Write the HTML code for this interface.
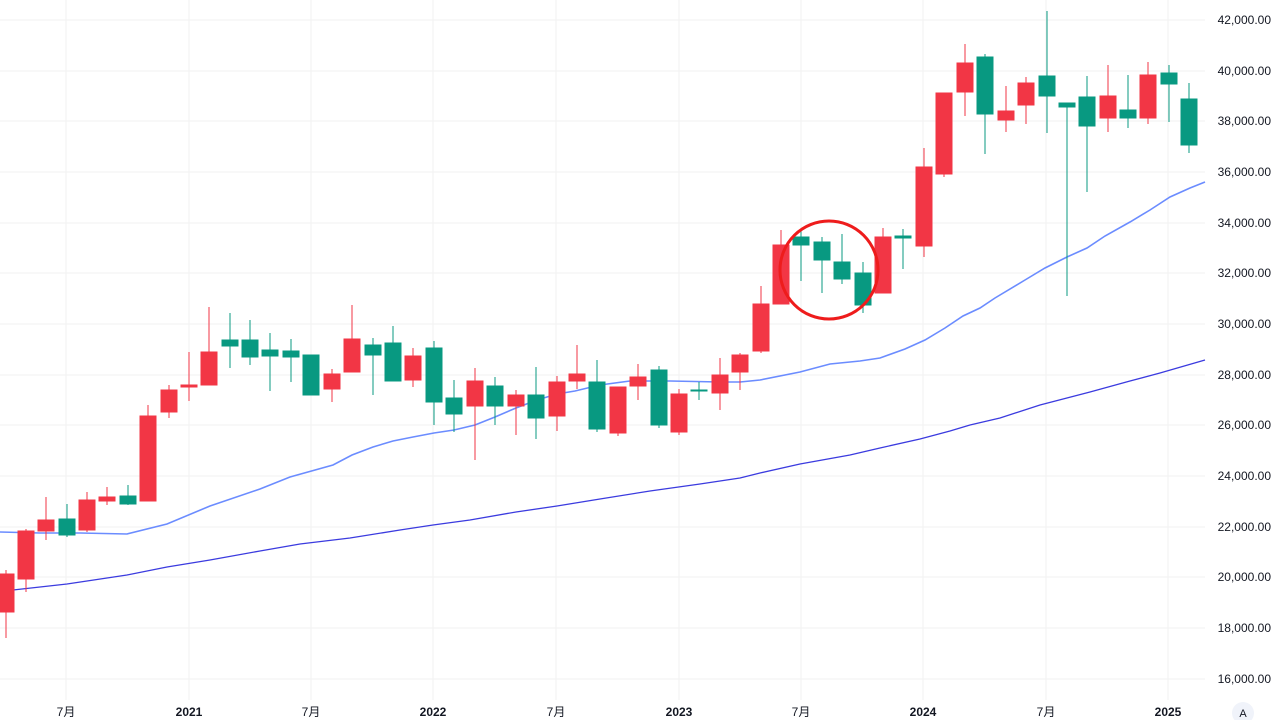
<!DOCTYPE html>
<html><head><meta charset="utf-8"><style>
html,body{margin:0;padding:0;background:#fff;}
svg{display:block;font-family:"Liberation Sans","Noto Sans CJK SC",sans-serif;}
.g line{stroke:#f2f2f2;stroke-width:1}
.r{fill:#f23645;stroke:#f23645}
.gr{fill:#089981;stroke:#089981}
.yl{font-size:12px;fill:#131722;text-anchor:end}
.xl{font-size:12px;fill:#131722;text-anchor:middle}
</style></head><body>
<svg width="1280" height="720" viewBox="0 0 1280 720">
<g class="g">
<line x1="0" y1="20" x2="1205" y2="20"/><line x1="0" y1="71" x2="1205" y2="71"/><line x1="0" y1="121" x2="1205" y2="121"/><line x1="0" y1="172" x2="1205" y2="172"/><line x1="0" y1="223" x2="1205" y2="223"/><line x1="0" y1="273" x2="1205" y2="273"/><line x1="0" y1="324" x2="1205" y2="324"/><line x1="0" y1="375" x2="1205" y2="375"/><line x1="0" y1="425" x2="1205" y2="425"/><line x1="0" y1="476" x2="1205" y2="476"/><line x1="0" y1="527" x2="1205" y2="527"/><line x1="0" y1="577" x2="1205" y2="577"/><line x1="0" y1="628" x2="1205" y2="628"/><line x1="0" y1="679" x2="1205" y2="679"/>
<line x1="66" y1="0" x2="66" y2="700"/><line x1="189" y1="0" x2="189" y2="700"/><line x1="311" y1="0" x2="311" y2="700"/><line x1="433" y1="0" x2="433" y2="700"/><line x1="556" y1="0" x2="556" y2="700"/><line x1="679" y1="0" x2="679" y2="700"/><line x1="801" y1="0" x2="801" y2="700"/><line x1="923" y1="0" x2="923" y2="700"/><line x1="1046" y1="0" x2="1046" y2="700"/><line x1="1168" y1="0" x2="1168" y2="700"/>
</g>
<polyline fill="none" stroke="#6b8cff" stroke-width="1.6" points="0,532 40,533 80,533 127,534 167,524 210,506 260,489 290,477 333,465 352,455 373,447 393,441 413,437 434,433 454,430 475,425 495,417 516,408 537,400 557,394 575,391 600,385 630,381 670,381 720,382 740,382 760,380 800,372 830,364 860,361 880,358 905,349 925,340 945,328 963,316 980,308 995,298 1025,280 1045,268 1067,257 1087,248 1105,236 1130,222 1150,210 1170,197 1190,188 1205,182"/>
<polyline fill="none" stroke="#3b3bdf" stroke-width="1.3" points="0,591 13,590 67,584 127,575 167,567 210,560 260,551 300,544 350,538 400,530 433,525 470,520 516,512 557,506 600,499 650,491 700,484 740,478 760,473 800,464 850,455 880,448 920,439 950,431 970,425 1000,418 1040,405 1090,392 1130,381 1160,373 1205,360"/>
<g stroke-width="1">
<g class="r"><line x1="6" y1="570" x2="6" y2="638"/><rect x="-2" y="574" width="16" height="38"/></g>
<g class="r"><line x1="26" y1="529" x2="26" y2="592"/><rect x="18" y="531" width="16" height="48"/></g>
<g class="r"><line x1="46" y1="497" x2="46" y2="540"/><rect x="38" y="520" width="16" height="11"/></g>
<g class="gr"><line x1="67" y1="504" x2="67" y2="537"/><rect x="59" y="519" width="16" height="16"/></g>
<g class="r"><line x1="87" y1="492" x2="87" y2="532"/><rect x="79" y="500" width="16" height="30"/></g>
<g class="r"><line x1="107" y1="487" x2="107" y2="505"/><rect x="99" y="497" width="16" height="4"/></g>
<g class="gr"><line x1="128" y1="485" x2="128" y2="505"/><rect x="120" y="496" width="16" height="8"/></g>
<g class="r"><line x1="148" y1="405" x2="148" y2="501"/><rect x="140" y="416" width="16" height="85"/></g>
<g class="r"><line x1="169" y1="385" x2="169" y2="418"/><rect x="161" y="390" width="16" height="22"/></g>
<g class="r"><line x1="189" y1="352" x2="189" y2="401"/><rect x="181" y="385" width="16" height="2"/></g>
<g class="r"><line x1="209" y1="307" x2="209" y2="385"/><rect x="201" y="352" width="16" height="33"/></g>
<g class="gr"><line x1="230" y1="313" x2="230" y2="368"/><rect x="222" y="340" width="16" height="6"/></g>
<g class="gr"><line x1="250" y1="320" x2="250" y2="365"/><rect x="242" y="340" width="16" height="17"/></g>
<g class="gr"><line x1="270" y1="333" x2="270" y2="391"/><rect x="262" y="350" width="16" height="6"/></g>
<g class="gr"><line x1="291" y1="339" x2="291" y2="382"/><rect x="283" y="351" width="16" height="6"/></g>
<g class="gr"><line x1="311" y1="355" x2="311" y2="395"/><rect x="303" y="355" width="16" height="40"/></g>
<g class="r"><line x1="332" y1="369" x2="332" y2="402"/><rect x="324" y="374" width="16" height="15"/></g>
<g class="r"><line x1="352" y1="305" x2="352" y2="372"/><rect x="344" y="339" width="16" height="33"/></g>
<g class="gr"><line x1="373" y1="338" x2="373" y2="395"/><rect x="365" y="345" width="16" height="10"/></g>
<g class="gr"><line x1="393" y1="326" x2="393" y2="381"/><rect x="385" y="343" width="16" height="38"/></g>
<g class="r"><line x1="413" y1="348" x2="413" y2="387"/><rect x="405" y="356" width="16" height="24"/></g>
<g class="gr"><line x1="434" y1="341" x2="434" y2="425"/><rect x="426" y="348" width="16" height="54"/></g>
<g class="gr"><line x1="454" y1="380" x2="454" y2="432"/><rect x="446" y="398" width="16" height="16"/></g>
<g class="r"><line x1="475" y1="368" x2="475" y2="460"/><rect x="467" y="381" width="16" height="25"/></g>
<g class="gr"><line x1="495" y1="377" x2="495" y2="425"/><rect x="487" y="386" width="16" height="20"/></g>
<g class="r"><line x1="516" y1="390" x2="516" y2="435"/><rect x="508" y="395" width="16" height="11"/></g>
<g class="gr"><line x1="536" y1="367" x2="536" y2="439"/><rect x="528" y="395" width="16" height="23"/></g>
<g class="r"><line x1="557" y1="376" x2="557" y2="431"/><rect x="549" y="382" width="16" height="34"/></g>
<g class="r"><line x1="577" y1="345" x2="577" y2="389"/><rect x="569" y="374" width="16" height="7"/></g>
<g class="gr"><line x1="597" y1="360" x2="597" y2="432"/><rect x="589" y="382" width="16" height="47"/></g>
<g class="r"><line x1="618" y1="387" x2="618" y2="436"/><rect x="610" y="387" width="16" height="46"/></g>
<g class="r"><line x1="638" y1="364" x2="638" y2="400"/><rect x="630" y="377" width="16" height="9"/></g>
<g class="gr"><line x1="659" y1="366" x2="659" y2="428"/><rect x="651" y="370" width="16" height="55"/></g>
<g class="r"><line x1="679" y1="389" x2="679" y2="435"/><rect x="671" y="394" width="16" height="38"/></g>
<g class="gr"><line x1="699" y1="382" x2="699" y2="400"/><rect x="691" y="390" width="16" height="1"/></g>
<g class="r"><line x1="720" y1="358" x2="720" y2="410"/><rect x="712" y="375" width="16" height="18"/></g>
<g class="r"><line x1="740" y1="353" x2="740" y2="390"/><rect x="732" y="355" width="16" height="17"/></g>
<g class="r"><line x1="761" y1="286" x2="761" y2="353"/><rect x="753" y="304" width="16" height="47"/></g>
<g class="r"><line x1="781" y1="230" x2="781" y2="304"/><rect x="773" y="245" width="16" height="59"/></g>
<g class="gr"><line x1="801" y1="230" x2="801" y2="281"/><rect x="793" y="237" width="16" height="8"/></g>
<g class="gr"><line x1="822" y1="237" x2="822" y2="293"/><rect x="814" y="242" width="16" height="18"/></g>
<g class="gr"><line x1="842" y1="234" x2="842" y2="284"/><rect x="834" y="262" width="16" height="17"/></g>
<g class="gr"><line x1="863" y1="262" x2="863" y2="313"/><rect x="855" y="273" width="16" height="32"/></g>
<g class="r"><line x1="883" y1="228" x2="883" y2="293"/><rect x="875" y="237" width="16" height="56"/></g>
<g class="gr"><line x1="903" y1="229" x2="903" y2="269"/><rect x="895" y="236" width="16" height="2"/></g>
<g class="r"><line x1="924" y1="148" x2="924" y2="257"/><rect x="916" y="167" width="16" height="79"/></g>
<g class="r"><line x1="944" y1="93" x2="944" y2="177"/><rect x="936" y="93" width="16" height="81"/></g>
<g class="r"><line x1="965" y1="44" x2="965" y2="116"/><rect x="957" y="63" width="16" height="29"/></g>
<g class="gr"><line x1="985" y1="54" x2="985" y2="154"/><rect x="977" y="57" width="16" height="57"/></g>
<g class="r"><line x1="1006" y1="86" x2="1006" y2="132"/><rect x="998" y="111" width="16" height="9"/></g>
<g class="r"><line x1="1026" y1="77" x2="1026" y2="124"/><rect x="1018" y="83" width="16" height="22"/></g>
<g class="gr"><line x1="1047" y1="11" x2="1047" y2="133"/><rect x="1039" y="76" width="16" height="20"/></g>
<g class="gr"><line x1="1067" y1="103" x2="1067" y2="296"/><rect x="1059" y="103" width="16" height="4"/></g>
<g class="gr"><line x1="1087" y1="76" x2="1087" y2="192"/><rect x="1079" y="97" width="16" height="29"/></g>
<g class="r"><line x1="1108" y1="65" x2="1108" y2="132"/><rect x="1100" y="96" width="16" height="22"/></g>
<g class="gr"><line x1="1128" y1="75" x2="1128" y2="128"/><rect x="1120" y="110" width="16" height="8"/></g>
<g class="r"><line x1="1148" y1="62" x2="1148" y2="124"/><rect x="1140" y="75" width="16" height="43"/></g>
<g class="gr"><line x1="1169" y1="65" x2="1169" y2="122"/><rect x="1161" y="73" width="16" height="11"/></g>
<g class="gr"><line x1="1189" y1="83" x2="1189" y2="153"/><rect x="1181" y="99" width="16" height="46"/></g>
</g>
<circle cx="829" cy="270" r="49" fill="none" stroke="#ee1c1c" stroke-width="3"/>
<g class="yl">
<text x="1271" y="24">42,000.00</text><text x="1271" y="75">40,000.00</text><text x="1271" y="125">38,000.00</text><text x="1271" y="176">36,000.00</text><text x="1271" y="227">34,000.00</text><text x="1271" y="277">32,000.00</text><text x="1271" y="328">30,000.00</text><text x="1271" y="379">28,000.00</text><text x="1271" y="429">26,000.00</text><text x="1271" y="480">24,000.00</text><text x="1271" y="531">22,000.00</text><text x="1271" y="581">20,000.00</text><text x="1271" y="632">18,000.00</text><text x="1271" y="683">16,000.00</text>
</g>
<g class="xl">
<text x="66" y="716">7月</text><text x="189" y="716" font-weight="bold">2021</text><text x="311" y="716">7月</text><text x="433" y="716" font-weight="bold">2022</text><text x="556" y="716">7月</text><text x="679" y="716" font-weight="bold">2023</text><text x="801" y="716">7月</text><text x="923" y="716" font-weight="bold">2024</text><text x="1046" y="716">7月</text><text x="1168" y="716" font-weight="bold">2025</text>
</g>
<circle cx="1243" cy="713" r="11" fill="#f0f3fa"/>
<text x="1243" y="717" font-size="11" fill="#131722" text-anchor="middle">A</text>
</svg>
</body></html>
